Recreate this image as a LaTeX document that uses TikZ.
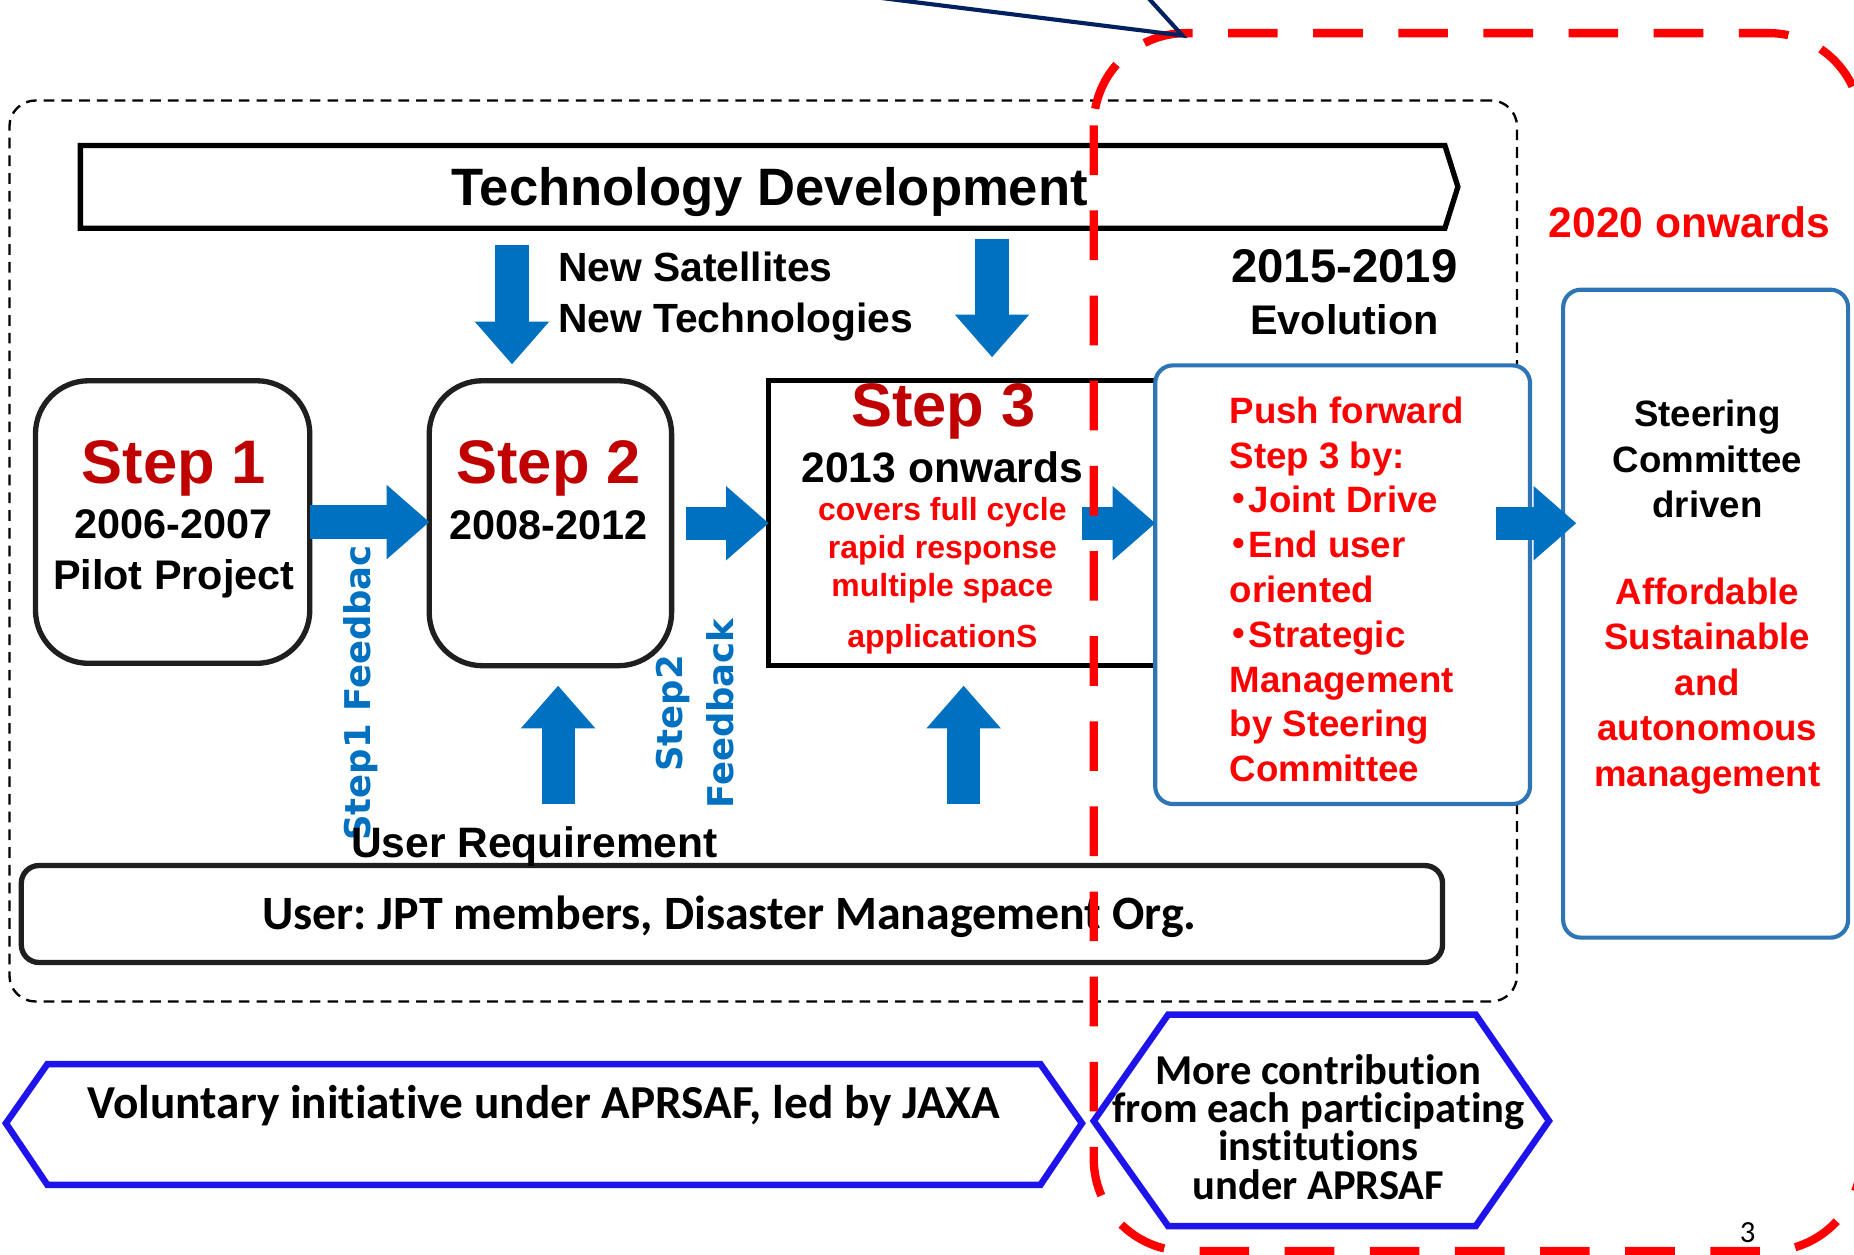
\documentclass[tikz,border=0pt]{standalone}
\usepackage{fontspec}
\setmainfont{Liberation Sans}
\newfontfamily\calibri[Ligatures=NoCommon]{Carlito}
\newfontfamily\verdana{DejaVu Sans}
\newfontfamily\cjk{Noto Sans CJK JP}
\frenchspacing
\usepackage{tikz}
\usetikzlibrary{arrows.meta,calc}
\definecolor{PPT-blue}{RGB}{0,112,192}
\definecolor{PPT-darkred}{RGB}{192,0,0}
\definecolor{PPT-red}{RGB}{255,0,0}
\definecolor{PPT-frame}{RGB}{46,117,182}
\definecolor{PPT-hex}{RGB}{30,20,235}
\definecolor{PPT-navy}{RGB}{0,32,96}
\newcommand{\fsz}[2]{\fontsize{#1}{#2}\selectfont}
\newcommand{\bulletdot}{\makebox[16pt][c]{\cjk ・}}
\tikzstyle{e}=[PPT-blue,line width=28pt,arrows={-{Triangle[length=36pt,width=63pt,line width=0pt,fill=PPT-blue]}}]
\tikzstyle{n}=[inner sep=0pt,outer sep=0pt,font=\bfseries]
\tikzstyle{stepbox}=[n,draw=black!88,line width=4.5pt,rounded corners=45pt,fill=white]
\tikzstyle{bluebox}=[n,draw=PPT-frame,line width=3.5pt,rounded corners=15pt,fill=white]
\tikzstyle{hex}=[draw=PPT-hex,line width=5.5pt,line join=miter,fill=white]
\tikzstyle{steptitle}=[n,anchor=base,PPT-darkred,font=\bfseries\fsz{52}{52}]
\tikzstyle{years}=[n,font=\bfseries\fsz{35}{43}]

\begin{document}
\begin{tikzpicture}[x=1pt,y=-1pt]
    \clip (0,0) rectangle (1568,1061);

    % Step 1 and 2 frame
    \node[n,draw,line width=2pt,dash pattern=on 9pt off 6pt,rounded corners=22pt,
          minimum width=1275pt,minimum height=762pt] (span) at (645.5,466) {};

    \draw[line width=4.5pt,line join=miter] (68,123) -- (1222,123) -- (1233,158) -- (1222,193) -- (68,193) -- cycle;
    \node[n,anchor=base,font=\bfseries\fsz{44.5}{44.5}] (techdev) at (651,174) {Technology Development};

    \node[stepbox,minimum width=232pt,minimum height=239pt] (step1) at (146,441.5) {};
    \node[stepbox,minimum width=205pt,minimum height=241pt] (step2) at (465.5,442.5) {};
    \node[n,draw,line width=4.5pt,minimum width=330pt,minimum height=241pt] (step3) at (815,442.5) {};
    \node[bluebox,minimum width=317pt,minimum height=371pt] (push) at (1135.5,494.5) {};
    \node[bluebox,minimum width=241pt,minimum height=548pt] (steer) at (1442.5,519) {};
    \node[n,draw=black!88,line width=4.5pt,rounded corners=15pt,
          minimum width=1202pt,minimum height=82pt] (user) at (619,773) {};

    \node[steptitle] (step1-title) at (147,409) {Step 1};
    \node[years,anchor=north,align=center] (step1-years) at (147,431) {2006-2007\\Pilot Project};
    \node[steptitle] (step2-title) at (464,409) {Step 2};
    \node[years,anchor=base] (step2-years) at (464,456) {2008-2012};
    \node[steptitle] (step3-title) at (798,361) {Step 3};
    \node[n,anchor=base,font=\bfseries\fsz{36}{36}] (step3-years) at (797,408) {2013 onwards};
    \node[n,anchor=north,align=center,PPT-red,font=\bfseries\fsz{27}{32}] (step3-text) at (797,421)
        {covers full cycle\\rapid response\\multiple space\\[11pt]applicationS};

    \node[n,anchor=north west,align=left,font=\bfseries\fsz{34.5}{43}] (newsat) at (472,213)
        {New Satellites\\New Technologies};
    \node[n,anchor=base,font=\bfseries\fsz{40}{40}] (evo-years) at (1137,239) {2015-2019};
    \node[n,anchor=base,font=\bfseries\fsz{35}{35}] (evo) at (1137,283) {Evolution};
    \node[n,anchor=base,PPT-red,font=\bfseries\fsz{36}{36}] (onwards) at (1429,201) {2020 onwards};

    \node[n,anchor=north west,align=left,PPT-red,font=\bfseries\fsz{31}{37.9}] (push-text) at (1040,335.5)
        {Push forward\\Step 3 by:\\\bulletdot Joint Drive\\\bulletdot End user\\oriented\\\bulletdot Strategic\\Management\\by Steering\\Committee};
    \node[n,anchor=north,align=center,font=\bfseries\fsz{31}{38.5}] (steer-text) at (1444,338.5)
        {Steering\\Committee\\driven\\[34.5pt]\textcolor{PPT-red}{Affordable}\\\textcolor{PPT-red}{Sustainable}\\
         \textcolor{PPT-red}{and}\\\textcolor{PPT-red}{autonomous}\\\textcolor{PPT-red}{management}};

    \node[n,rotate=90,anchor=base west,PPT-blue,font=\verdana\bfseries\fsz{30}{43}] (fb1) at (313,711) {Step1 Feedbac};
    \node[n,rotate=90,align=center,PPT-blue,font=\verdana\bfseries\fsz{30}{43}] (fb2) at (588,603.5) {Step2\\Feedback};

    \node[n,anchor=base,font=\bfseries\fsz{36}{36}] (userreq) at (452,725) {User Requirement};
    \node[n,anchor=base,font=\calibri\bfseries\fsz{40.5}{40.5}] (user-text) at (617,786)
        {User: JPT members, Disaster Management Org.};

    \path[e]
      (step1.east)                         edge (step1.east -| step2.west)
      ([xshift=12pt]step2.east)            edge (step2.east -| step3.west)
      ($(push.west |- step3)+(-62,0)$)     edge (push.west |- step3)
      ($(steer.west |- step3)+(-57,0)$)    edge ($(steer.west |- step3)+(11,0)$)
      ($(step2.north)+(-32.5,-115)$)       edge ($(step2.north)+(-32.5,-14)$)
      ($(step3.north)+(24,-120)$)          edge ($(step3.north)+(24,-20)$)
      ($(step2.south)+(6.5,117)$)          edge ($(step2.south)+(6.5,17)$)
      ($(step3.south)+(0,117)$)            edge ($(step3.south)+(0,17)$);

    % APRSAF
    \draw[hex] (5,950) -- (40,900) -- (880,900) -- (915,950) -- (880,1002) -- (40,1002) -- cycle;
    \node[n,anchor=base,font=\calibri\bfseries\fsz{40}{40}] (volun) at (460,946)
        {Voluntary initiative under APRSAF, led by JAXA};
    \draw[hex] (925,948) -- (988,858) -- (1248,858) -- (1310,948) -- (1248,1037) -- (988,1037) -- cycle;
    \node[n,anchor=north,align=center,font=\calibri\bfseries\fsz{36}{32.3}] (contrib) at (1115,892)
        {More contribution\\from each participating\\institutions\\under APRSAF};

    \node[n,anchor=base,font=\calibri\fsz{26}{26}] (pagenum) at (1478,1051) {3};

    % 2020 onwards frame
    \draw[PPT-red,line width=7pt,dash pattern=on 42pt off 30pt,rounded corners=78pt] (925,28) rectangle (1574,1058);
    \draw[PPT-navy,line width=3.5pt] (735,-3) -- (1000,30) -- (970,-3);

\end{tikzpicture}
\end{document}
